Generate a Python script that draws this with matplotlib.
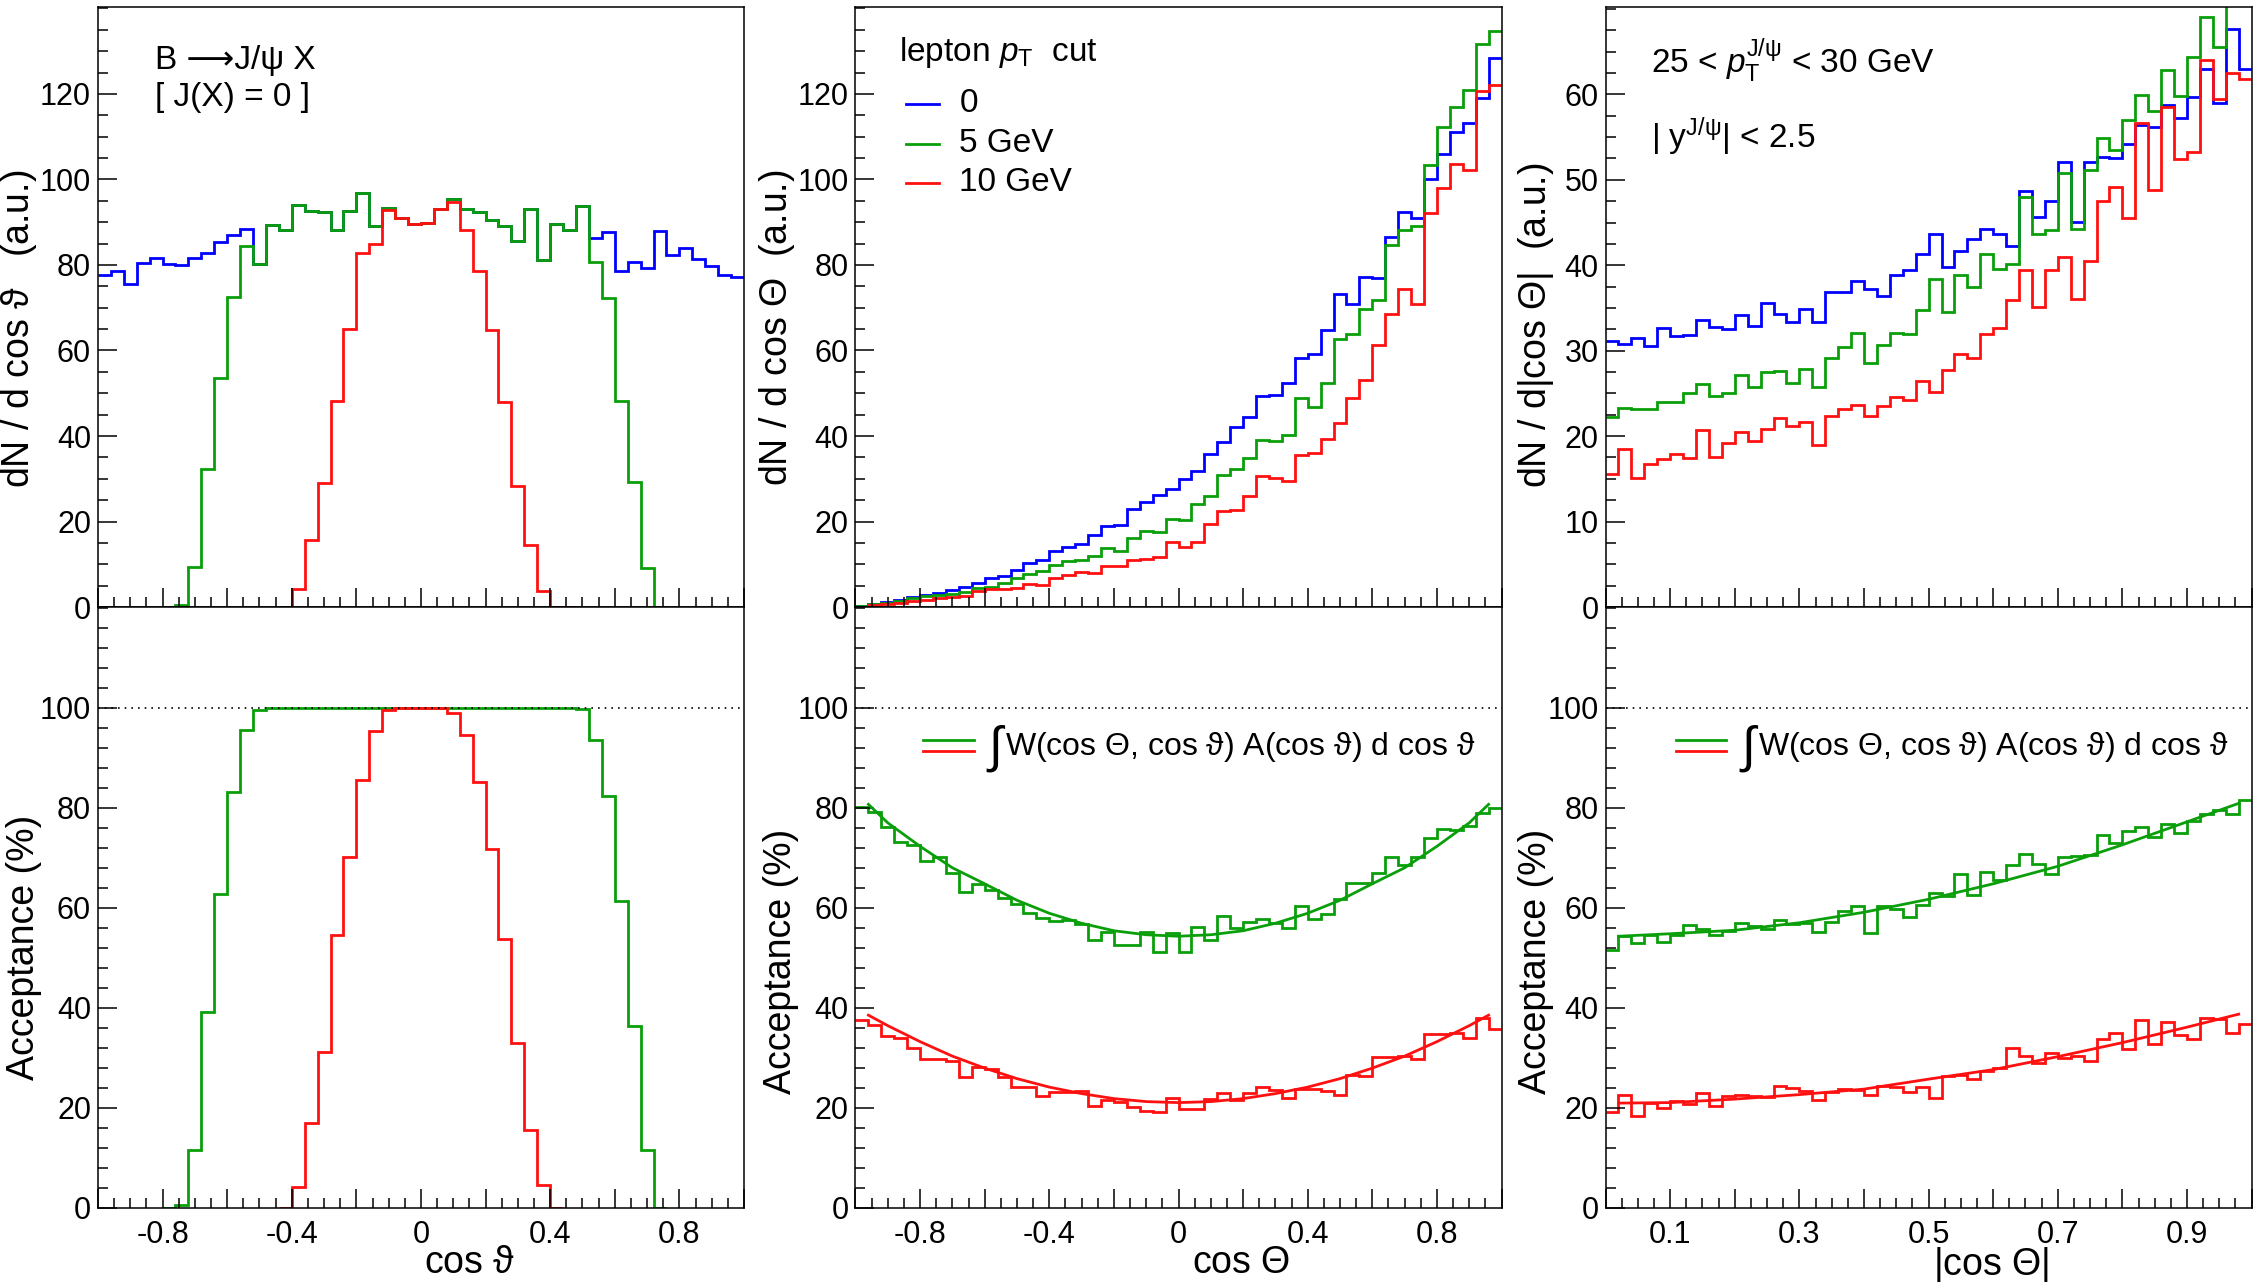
import numpy as np
import matplotlib
matplotlib.use("Agg")
import matplotlib.pyplot as plt
from matplotlib.ticker import MultipleLocator, FixedLocator, FuncFormatter

plt.rcParams['font.family'] = ['Liberation Sans', 'DejaVu Sans']
plt.rcParams['mathtext.fontset'] = 'custom'
plt.rcParams['mathtext.rm'] = 'Liberation Sans'
plt.rcParams['mathtext.it'] = 'Liberation Sans:italic'
plt.rcParams['mathtext.bf'] = 'Liberation Sans:bold'
plt.rcParams['axes.unicode_minus'] = False

nan = np.nan
BLUE, GREEN, RED = '#0000ff', '#0a9f0a', '#ff1010'

# binning: 50 bins in cos(vartheta), cos(Theta) in [-1, 1] and |cos(Theta)| in [0, 1]
n_bins = 50
sym_range = (-1.0, 1.0)
abs_range = (0.0, 1.0)

# --- top left: dN/dcos(vartheta)
theta_all = [77.7, 78.7, 75.6, 80.4, 81.7, 80.3, 80.1, 81.7, 82.7, 85.3,
             86.9, 88.4, 80.2, 89.3, 88.1, 94.1, 92.7, 92.3, 88.2, 92.7,
             96.8, 89.2, 93.3, 91.1, 89.6, 89.8, 93.1, 95.5, 93.2, 92.3,
             90.5, 89.1, 85.6, 93.2, 81.1, 89.6, 88.1, 93.9, 86.3, 87.7,
             78.6, 80.8, 79.3, 87.9, 82.4, 84.0, 81.5, 79.8, 77.7, 77.3]
theta_5gev = [nan, nan, nan, nan, nan, 0.0, 0.5, 9.4, 32.3, 53.6,
              72.5, 84.4, 80.2, 89.3, 88.1, 94.1, 92.7, 92.3, 88.2, 92.7,
              96.8, 89.2, 93.3, 91.1, 89.6, 89.8, 93.1, 95.5, 93.2, 92.3,
              90.5, 89.1, 85.6, 93.2, 81.1, 89.6, 88.1, 93.9, 80.8, 72.2,
              48.2, 29.3, 9.1, 0.0, nan, nan, nan, nan, nan, nan]
theta_10gev = [nan, nan, nan, nan, nan, nan, nan, nan, nan, nan,
               nan, nan, nan, nan, 0.0, 4.1, 15.7, 29.0, 48.2, 65.1,
               82.7, 85.0, 92.9, 91.1, 89.6, 89.8, 93.1, 94.7, 88.1, 78.5,
               64.7, 47.9, 28.3, 14.4, 3.7, 0.1, 0.0, nan, nan, nan,
               nan, nan, nan, nan, nan, nan, nan, nan, nan, nan]

# --- top middle: dN/dcos(Theta)
Theta_all = [0.2, 0.7, 1.2, 1.7, 2.4, 2.8, 3.3, 3.9, 4.7, 5.6,
             6.7, 7.3, 8.6, 10.2, 10.9, 13.1, 14.1, 14.8, 16.9, 19.0,
             19.2, 22.9, 24.5, 26.2, 27.7, 30.0, 31.9, 35.9, 38.6, 42.1,
             44.4, 49.3, 49.7, 52.5, 58.2, 59.1, 64.7, 73.2, 70.8, 77.2,
             76.9, 86.5, 92.5, 90.9, 100.0, 105.9, 111.0, 113.3, 119.0, 128.3]
Theta_5gev = [0.2, 0.6, 1.0, 1.5, 2.0, 2.6, 2.9, 3.1, 3.6, 4.4,
              4.8, 5.7, 6.7, 7.7, 8.4, 9.8, 10.7, 11.1, 12.0, 13.9,
              13.1, 16.1, 17.7, 17.6, 20.5, 20.3, 24.1, 25.9, 30.8, 32.3,
              34.8, 39.1, 38.8, 40.2, 48.8, 46.9, 52.5, 62.7, 63.8, 69.6,
              71.7, 84.7, 88.3, 89.2, 103.3, 112.2, 117.0, 120.9, 131.7, 134.8]
Theta_10gev = [0.1, 0.5, 0.7, 1.0, 1.4, 1.6, 2.0, 2.4, 2.6, 3.7,
               4.1, 4.3, 4.5, 5.4, 5.2, 6.7, 7.5, 8.1, 7.9, 9.6,
               9.5, 11.0, 11.2, 11.6, 15.1, 14.1, 15.2, 19.4, 22.5, 22.7,
               25.9, 30.6, 30.1, 29.4, 35.5, 36.0, 39.3, 43.0, 49.0, 53.1,
               61.3, 68.5, 74.4, 70.9, 92.1, 98.0, 103.6, 102.2, 120.7, 122.2]

# --- top right: dN/d|cos(Theta)|
abs_all = [31.1, 30.8, 31.5, 30.5, 32.6, 31.7, 31.8, 33.6, 32.8, 32.5,
           34.2, 32.9, 35.6, 34.3, 33.3, 34.9, 33.4, 36.9, 36.9, 38.2,
           37.2, 36.4, 38.8, 39.4, 41.3, 43.7, 39.8, 41.7, 43.1, 44.2,
           43.6, 42.2, 48.7, 45.7, 47.5, 52.1, 45.1, 52.1, 52.7, 52.6,
           54.2, 56.4, 56.2, 58.7, 57.2, 59.7, 63.0, 59.0, 67.6, 63.0]
abs_5gev = [22.2, 23.3, 23.2, 23.2, 24.0, 24.0, 25.0, 26.1, 24.7, 25.0,
            27.2, 25.7, 27.5, 27.6, 26.2, 27.8, 25.7, 29.2, 30.4, 32.1,
            28.5, 30.7, 32.1, 31.9, 34.8, 38.4, 34.5, 38.8, 37.5, 41.3,
            39.6, 40.2, 48.0, 43.6, 44.1, 50.8, 44.2, 51.2, 54.9, 53.5,
            57.0, 59.9, 58.0, 62.8, 59.8, 64.4, 69.1, 65.5, 74.0, 72.0]
abs_10gev = [15.6, 18.5, 15.1, 16.7, 17.3, 17.9, 17.4, 20.7, 17.6, 19.2,
             20.5, 19.4, 20.8, 22.1, 21.2, 21.6, 19.0, 22.3, 23.2, 23.6,
             22.3, 23.5, 24.6, 24.2, 26.5, 25.2, 27.7, 29.6, 29.1, 32.0,
             32.6, 35.9, 39.5, 35.1, 39.4, 41.0, 36.0, 40.5, 47.5, 49.1,
             45.5, 56.6, 48.8, 58.5, 52.4, 53.3, 64.0, 59.5, 62.5, 61.8]

# --- bottom left: acceptance vs cos(vartheta) (%)
acc_theta_5gev = [nan, nan, nan, nan, nan, 0.0, 0.5, 11.5, 39.1, 62.7,
                  83.2, 95.5, 99.5, 100, 100, 100, 100, 100, 100, 100,
                  100, 100, 100, 100, 100, 100, 100, 100, 100, 100,
                  100, 100, 100, 100, 100, 100, 100, 99.8, 93.6, 82.3,
                  61.4, 36.3, 11.5, 0.0, nan, nan, nan, nan, nan, nan]
acc_theta_10gev = [nan, nan, nan, nan, nan, nan, nan, nan, nan, nan,
                   nan, nan, nan, nan, 0.0, 4.2, 16.9, 31.1, 54.5, 70.1,
                   85.6, 95.4, 99.5, 100, 100, 100, 100, 99.0, 94.5, 85.1,
                   71.7, 53.7, 33.0, 15.5, 4.6, 0.0, nan, nan, nan, nan,
                   nan, nan, nan, nan, nan, nan, nan, nan, nan, nan]

# --- bottom middle: acceptance vs cos(Theta) (%)
acc_Theta_5gev = [80.2, 79.1, 76.1, 73.2, 72.5, 69.3, 70.1, 67.0, 63.2, 64.8,
                  63.5, 61.9, 60.7, 59.0, 58.0, 57.4, 57.6, 56.7, 53.5, 55.2,
                  52.5, 52.5, 55.1, 51.1, 55.0, 51.1, 56.1, 53.5, 58.3, 55.9,
                  57.2, 57.7, 57.0, 55.9, 60.4, 57.8, 58.8, 61.7, 65.0, 65.0,
                  67.0, 70.2, 68.5, 70.2, 73.9, 75.8, 75.5, 76.3, 79.0, 80.0]
acc_Theta_10gev = [37.6, 36.5, 34.3, 33.9, 32.0, 29.7, 29.7, 29.3, 26.1, 28.1,
                   27.7, 26.1, 24.1, 24.2, 22.4, 23.2, 23.2, 23.4, 20.4, 21.5,
                   21.2, 20.2, 19.3, 19.1, 22.0, 19.8, 19.8, 21.7, 23.0, 21.5,
                   22.9, 24.1, 23.5, 22.0, 23.7, 23.7, 23.3, 22.6, 26.5, 26.3,
                   30.2, 30.2, 30.4, 29.7, 34.8, 34.8, 35.0, 33.9, 38.0, 35.8]
fold_Theta_x = [-0.96, -0.9, -0.8, -0.7, -0.6, -0.5, -0.4, -0.3, -0.2, -0.1, 0.0,
                0.1, 0.2, 0.3, 0.4, 0.5, 0.6, 0.7, 0.8, 0.9, 0.96]
fold_Theta_5gev = [80.7, 77.0, 72.3, 68.0, 64.8, 61.5, 58.9, 56.9, 55.4, 54.6, 54.3,
                   54.6, 55.4, 56.9, 58.9, 61.5, 64.8, 68.0, 72.3, 77.0, 80.7]
fold_Theta_10gev = [38.5, 36.4, 33.2, 30.3, 27.9, 25.8, 24.1, 22.8, 21.8, 21.2, 21.0,
                    21.2, 21.8, 22.8, 24.1, 25.8, 27.9, 30.3, 33.2, 36.4, 38.5]

# --- bottom right: acceptance vs |cos(Theta)| (%)
acc_abs_5gev = [51.5, 54.3, 53.0, 54.5, 53.2, 54.6, 56.5, 55.8, 54.5, 55.4,
                57.0, 56.3, 55.8, 57.6, 56.7, 57.0, 55.2, 57.2, 59.3, 60.3,
                55.0, 60.4, 59.7, 58.1, 60.5, 62.9, 62.3, 66.8, 62.6, 67.2,
                65.5, 68.5, 70.7, 68.7, 66.8, 70.1, 70.3, 70.5, 74.5, 72.9,
                75.4, 76.1, 74.1, 76.7, 75.0, 77.4, 78.7, 79.6, 78.7, 81.6]
acc_abs_10gev = [19.1, 22.6, 18.3, 20.9, 20.0, 21.3, 20.7, 23.0, 20.4, 22.4,
                 22.6, 22.3, 22.2, 24.3, 23.9, 23.3, 21.6, 23.2, 23.7, 23.5,
                 22.6, 24.3, 24.2, 23.2, 24.2, 21.9, 26.3, 26.5, 25.7, 27.4,
                 28.0, 31.9, 30.4, 28.9, 31.0, 30.0, 30.3, 29.3, 33.7, 35.0,
                 31.7, 37.6, 32.8, 37.2, 34.5, 33.7, 38.0, 37.8, 35.0, 36.8]
fold_abs_x = [0.02, 0.1, 0.2, 0.3, 0.4, 0.5, 0.6, 0.7, 0.8, 0.9, 0.98]
fold_abs_5gev = [54.3, 54.8, 55.5, 57.0, 59.1, 61.7, 64.8, 68.3, 72.6, 77.2, 80.9]
fold_abs_10gev = [20.9, 21.0, 21.7, 22.6, 23.7, 25.7, 27.6, 30.2, 33.0, 36.1, 38.7]

pt_cut_labels = ["0", "5 GeV", "10 GeV"]
sym_tick_labels = [-0.8, -0.4, 0.0, 0.4, 0.8]
abs_tick_labels = [0.1, 0.3, 0.5, 0.7, 0.9]

TICK_FS = 22
TITLE_FS = 27
TEXT_FS = 24
LW = 2.0
VT = r"$\mathrm{\vartheta}$"


def shown_labels(labels):
    def fmt(v, pos):
        v = round(v, 3) + 0.0
        if any(abs(v - l) < 1e-6 for l in labels):
            return f"{v:g}"
        return ""
    return FuncFormatter(fmt)


def style(ax, xr, xmaj, xmin, xlabels, ylim, ymaj, ymin, bottom_row):
    ax.set_xlim(*xr)
    ax.set_ylim(*ylim)
    ax.xaxis.set_major_locator(MultipleLocator(xmaj))
    ax.xaxis.set_minor_locator(MultipleLocator(xmin))
    ax.xaxis.set_major_formatter(shown_labels(xlabels))
    ax.yaxis.set_major_locator(FixedLocator(ymaj))
    ax.yaxis.set_minor_locator(MultipleLocator(ymin))
    ax.tick_params(which='both', direction='in', top=False, right=False,
                   width=1.1, labelsize=TICK_FS)
    ax.tick_params(axis='x', which='major', length=14, pad=9)
    ax.tick_params(axis='x', which='minor', length=7)
    ax.tick_params(axis='y', which='major', length=14, pad=5)
    ax.tick_params(axis='y', which='minor', length=7)
    ax.tick_params(labelbottom=bottom_row)
    for s in ax.spines.values():
        s.set_linewidth(1.1)


def hist(ax, vals, rng, color):
    edges = np.linspace(rng[0], rng[1], n_bins + 1)
    ax.stairs(np.asarray(vals, dtype=float), edges, color=color, lw=LW, baseline=None)


fig = plt.figure(figsize=(22.62, 12.82), dpi=100)
lefts = [0.0433, 0.3782, 0.7098]
w = 0.2856
ax_tl = fig.add_axes([lefts[0], 0.5265, w, 0.4679])
ax_tm = fig.add_axes([lefts[1], 0.5265, w, 0.4679])
ax_tr = fig.add_axes([lefts[2], 0.5265, w, 0.4679])
ax_bl = fig.add_axes([lefts[0], 0.0581, w, 0.4684])
ax_bm = fig.add_axes([lefts[1], 0.0581, w, 0.4684])
ax_br = fig.add_axes([lefts[2], 0.0581, w, 0.4684])

top_ticks = [0, 20, 40, 60, 80, 100, 120]
acc_ticks = [0, 20, 40, 60, 80, 100]

# top row
for vals, col in zip([theta_all, theta_5gev, theta_10gev], [BLUE, GREEN, RED]):
    hist(ax_tl, vals, sym_range, col)
style(ax_tl, sym_range, 0.2, 0.05, sym_tick_labels, (0, 140.3), top_ticks, 5, False)
ax_tl.set_ylabel("dN / d cos " + VT + "   (a.u.)", fontsize=TITLE_FS, va='center')
ax_tl.yaxis.set_label_coords(-0.122, 0.464)
ax_tl.text(0.089, 0.911, "B ⟶J/ψ X", transform=ax_tl.transAxes,
           fontsize=TEXT_FS, va='center')
ax_tl.text(0.089, 0.849, "[ J(X) = 0 ]", transform=ax_tl.transAxes,
           fontsize=TEXT_FS, va='center')

for vals, col in zip([Theta_all, Theta_5gev, Theta_10gev], [BLUE, GREEN, RED]):
    hist(ax_tm, vals, sym_range, col)
style(ax_tm, sym_range, 0.2, 0.05, sym_tick_labels, (0, 140.3), top_ticks, 5, False)
ax_tm.set_ylabel(r"dN / d cos $\Theta$  (a.u.)", fontsize=TITLE_FS, va='center')
ax_tm.yaxis.set_label_coords(-0.122, 0.466)
ax_tm.text(0.067, 0.925, r"lepton $p_{\rm T}$  cut", transform=ax_tm.transAxes,
           fontsize=TEXT_FS, va='center')
for lab, col, yy in zip(pt_cut_labels, [BLUE, GREEN, RED], [0.839, 0.772, 0.707]):
    ax_tm.plot([0.078, 0.130], [yy, yy], transform=ax_tm.transAxes, color=col, lw=LW)
    ax_tm.text(0.161, yy, lab, transform=ax_tm.transAxes, fontsize=TEXT_FS, va='center')

for vals, col in zip([abs_all, abs_5gev, abs_10gev], [BLUE, GREEN, RED]):
    hist(ax_tr, vals, abs_range, col)
style(ax_tr, abs_range, 0.1, 0.025, abs_tick_labels, (0, 70.2),
      [0, 10, 20, 30, 40, 50, 60], 2.5, False)
ax_tr.set_ylabel(r"dN / d|cos $\Theta$|  (a.u.)", fontsize=TITLE_FS, va='center')
ax_tr.yaxis.set_label_coords(-0.108, 0.47)
ax_tr.text(0.071, 0.911, r"25 < $p_{\rm T}^{\rm J/\psi}$ < 30 GeV", transform=ax_tr.transAxes,
           fontsize=TEXT_FS, va='center')
ax_tr.text(0.071, 0.784, r"| y$^{\rm J/\psi}$| < 2.5", transform=ax_tr.transAxes,
           fontsize=TEXT_FS, va='center')

# bottom row
hist(ax_bl, acc_theta_5gev, sym_range, GREEN)
hist(ax_bl, acc_theta_10gev, sym_range, RED)
style(ax_bl, sym_range, 0.2, 0.05, sym_tick_labels, (0, 120.2), acc_ticks, 4, True)
ax_bl.set_xlabel("cos " + VT, fontsize=TITLE_FS)
ax_bl.xaxis.set_label_coords(0.575, -0.062)

hist(ax_bm, acc_Theta_5gev, sym_range, GREEN)
hist(ax_bm, acc_Theta_10gev, sym_range, RED)
ax_bm.plot(fold_Theta_x, fold_Theta_5gev, color=GREEN, lw=LW)
ax_bm.plot(fold_Theta_x, fold_Theta_10gev, color=RED, lw=LW)
style(ax_bm, sym_range, 0.2, 0.05, sym_tick_labels, (0, 120.2), acc_ticks, 4, True)
ax_bm.set_xlabel(r"cos $\Theta$", fontsize=TITLE_FS)
ax_bm.xaxis.set_label_coords(0.597, -0.062)

hist(ax_br, acc_abs_5gev, abs_range, GREEN)
hist(ax_br, acc_abs_10gev, abs_range, RED)
ax_br.plot(fold_abs_x, fold_abs_5gev, color=GREEN, lw=LW)
ax_br.plot(fold_abs_x, fold_abs_10gev, color=RED, lw=LW)
style(ax_br, abs_range, 0.1, 0.025, abs_tick_labels, (0, 120.2), acc_ticks, 4, True)
ax_br.set_xlabel(r"|cos $\Theta$|", fontsize=TITLE_FS)
ax_br.xaxis.set_label_coords(0.596, -0.062)

fold_text = (r"W(cos $\Theta$, cos " + VT + ") A(cos " + VT + ") d cos " + VT)
for ax, x0 in [(ax_bm, 0.105), (ax_br, 0.109)]:
    ax.axhline(100, color='black', lw=1.2, ls=(0, (1, 3)))
    ax.plot([x0, x0 + 0.078], [0.779, 0.779], transform=ax.transAxes, color=GREEN, lw=LW)
    ax.plot([x0, x0 + 0.078], [0.760, 0.760], transform=ax.transAxes, color=RED, lw=LW)
    ax.text(x0 + 0.101, 0.764, "∫", transform=ax.transAxes, fontsize=36, va='center')
    ax.text(x0 + 0.127, 0.767, fold_text, transform=ax.transAxes, fontsize=23, va='center')
ax_bl.axhline(100, color='black', lw=1.2, ls=(0, (1, 3)))

for ax in [ax_bl, ax_bm, ax_br]:
    ax.set_ylabel("Acceptance (%)", fontsize=TITLE_FS, va='center')
ax_bl.yaxis.set_label_coords(-0.115, 0.433)
ax_bm.yaxis.set_label_coords(-0.115, 0.41)
ax_br.yaxis.set_label_coords(-0.108, 0.41)

fig.savefig("out.png", dpi=100)
